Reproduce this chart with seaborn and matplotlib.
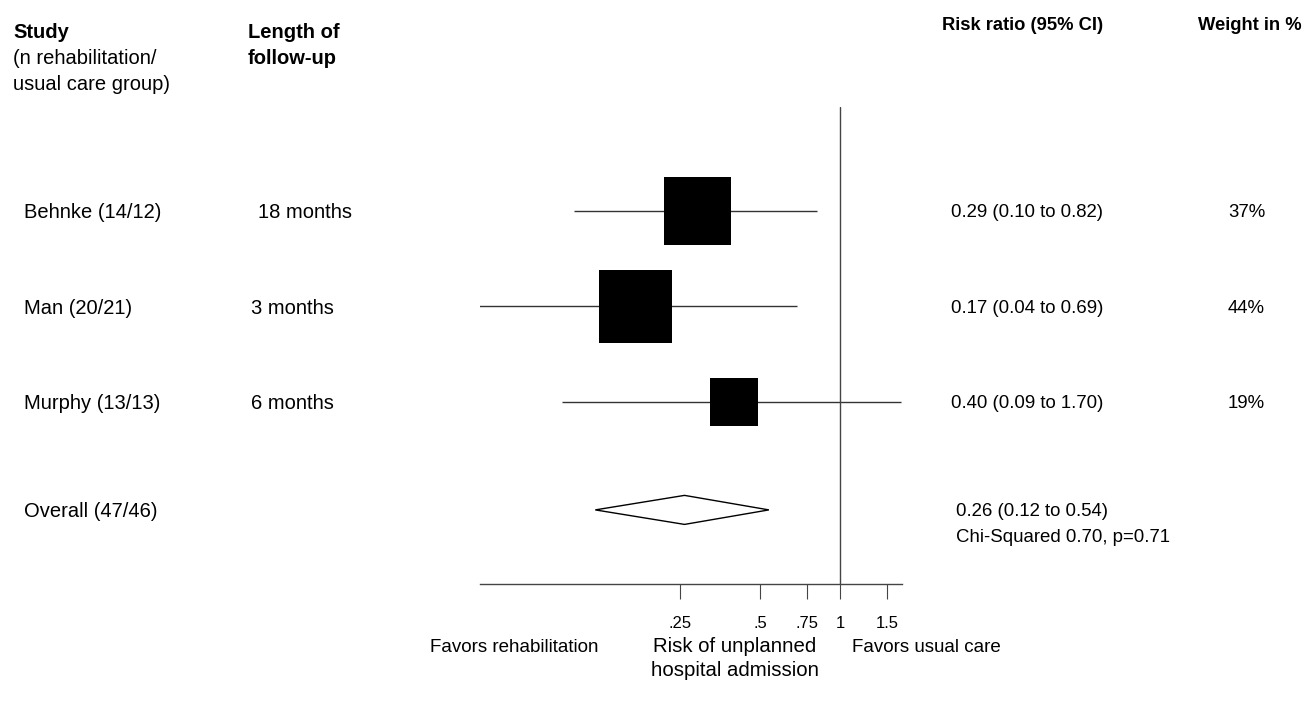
import numpy as np
import pandas as pd
import seaborn as sns
import matplotlib.pyplot as plt
from matplotlib import transforms

# Study data
studies = ['Behnke (14/12)', 'Man (20/21)', 'Murphy (13/13)']
follow_up = ['18 months', '3 months', '6 months']
rr = [0.29, 0.17, 0.40]
ci_low = [0.10, 0.04, 0.09]
ci_high = [0.82, 0.69, 1.70]
weights = [37, 44, 19]

overall_label = 'Overall (47/46)'
overall_rr = 0.26
overall_low = 0.12
overall_high = 0.54
chi_text = 'Chi-Squared 0.70, p=0.71'

tick_vals = [0.25, 0.5, 0.75, 1, 1.5]
tick_labels = ['.25', '.5', '.75', '1', '1.5']

df = pd.DataFrame({'study': studies, 'rr': rr, 'lo': ci_low, 'hi': ci_high,
                   'weight': weights, 'row': [1, 2, 3]})
overall_row = 4.13

sns.set_style('white')
plt.rcParams['font.family'] = ['Liberation Sans', 'DejaVu Sans']
plt.rcParams['text.color'] = 'black'
plt.rcParams['xtick.color'] = 'black'

W, H = 1304, 706
fig = plt.figure(figsize=(W / 100, H / 100), dpi=100)
ax = fig.add_axes([480 / W, 1 - 584 / H, 422 / W, 477 / H])

# confidence intervals
ax.hlines(df['row'], df['lo'], df['hi'], color='#333333', lw=1.0, zorder=1)

# boxes sized by weight (area proportional to weight)
size_map = {w: 63.3 * w for w in weights}
sns.scatterplot(data=df, x='rr', y='row', size='weight', sizes=size_map,
                marker='s', color='black', edgecolor='black', linewidth=0,
                legend=False, ax=ax, zorder=3)

# overall diamond
dh = 0.152
ax.fill([overall_low, overall_rr, overall_high, overall_rr],
        [overall_row, overall_row - dh, overall_row, overall_row + dh],
        facecolor='white', edgecolor='black', lw=1.0, zorder=3)

ax.axvline(1, color='#444444', lw=1.0, zorder=2)

ax.set_xscale('log')
ax.set_xlim(0.0442, 1.711)
ax.set_ylim(4.906, -0.089)
ax.set_xticks(tick_vals)
ax.set_xticklabels(tick_labels, fontsize=12)
ax.minorticks_off()
ax.set_yticks([])
ax.set_xlabel('')
ax.set_ylabel('')
ax.tick_params(axis='x', length=11, width=0.8, color='#444444', labelcolor='black',
               pad=12, bottom=True)
for side in ['top', 'right', 'left']:
    ax.spines[side].set_visible(False)
ax.spines['bottom'].set_color('#444444')
ax.spines['bottom'].set_linewidth(1.0)
ax.patch.set_alpha(0)


def ftext(x, y, s, **kw):
    fig.text(x / W, 1 - (y + 2) / H, s, va='center', color='black', **kw)


# headers
ftext(13, 31, 'Study', fontsize=14.5, fontweight='bold')
ftext(13, 57, '(n rehabilitation/', fontsize=14.5)
ftext(13, 82, 'usual care group)', fontsize=14.5)
ftext(248, 31, 'Length of', fontsize=14.5, fontweight='bold')
ftext(248, 57, 'follow-up', fontsize=14.5, fontweight='bold')
ftext(942, 24, 'Risk ratio (95% CI)', fontsize=13.2, fontweight='bold')
ftext(1198, 24, 'Weight in %', fontsize=13.2, fontweight='bold')

# row texts aligned to data rows (nudged 2px down)
tr = transforms.blended_transform_factory(fig.transFigure, ax.transData) + \
    transforms.ScaledTranslation(0, -0.02, fig.dpi_scale_trans)
fu_x = [258, 251, 251]
for i, r in df.iterrows():
    fig.text(24 / W, r['row'], r['study'], transform=tr, va='center', fontsize=14.5)
    fig.text(fu_x[i] / W, r['row'], follow_up[i], transform=tr, va='center', fontsize=14.5)
    fig.text(951 / W, r['row'], f"{r['rr']:.2f} ({r['lo']:.2f} to {r['hi']:.2f})",
             transform=tr, va='center', fontsize=13.4)
    fig.text(1228 / W, r['row'], f"{r['weight']}%", transform=tr, va='center', fontsize=13.4)

fig.text(24 / W, overall_row, overall_label, transform=tr, va='center', fontsize=14.5)
fig.text(956 / W, overall_row, f'{overall_rr:.2f} ({overall_low:.2f} to {overall_high:.2f})',
         transform=tr, va='center', fontsize=13.4)
ftext(956, 535, chi_text, fontsize=13.4)

# bottom labels
ftext(430, 645, 'Favors rehabilitation', fontsize=13.5)
ftext(735, 645, 'Risk of unplanned', ha='center', fontsize=14.7)
ftext(735, 668, 'hospital admission', ha='center', fontsize=14.7)
ftext(852, 645, 'Favors usual care', fontsize=13.5)

fig.savefig('out.png', dpi=100)
